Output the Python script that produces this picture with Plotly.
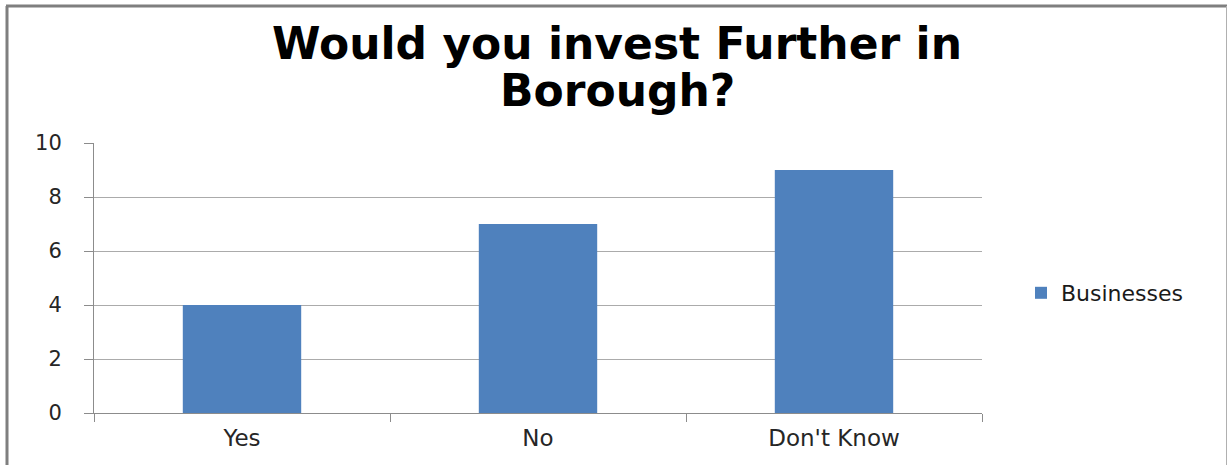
import plotly.graph_objects as go

categories = ["Yes", "No", "Don't Know"]
businesses = [4, 7, 9]
y_ticks = [0, 2, 4, 6, 8, 10]
title_lines = ["Would you invest Further in", "Borough?"]

W, H = 1231, 465
L, R, T, B = 94, 982, 143, 413  # plot area edges in pixels

def px_x(p):
    return (p - L) / (R - L)

def px_y(p):
    return (B - p) / (B - T)

fig = go.Figure()
fig.add_trace(go.Bar(
    x=categories,
    y=businesses,
    name="Businesses",
    marker=dict(color="#4F81BD", line=dict(width=0)),
    width=0.4,
))

axis_grey = "#8C8C8C"
font_family = "DejaVu Sans"

fig.update_layout(
    width=W,
    height=H,
    margin=dict(l=L, r=W - R, t=T, b=H - B, pad=0),
    paper_bgcolor="white",
    plot_bgcolor="white",
    showlegend=True,
    legend=dict(
        x=px_x(1021),
        xanchor="left",
        y=px_y(293),
        yanchor="middle",
        font=dict(family=font_family, size=22, color="#1a1a1a"),
        bgcolor="rgba(0,0,0,0)",
    ),
    xaxis=dict(
        type="category",
        showline=True,
        linecolor=axis_grey,
        linewidth=1,
        ticks="outside",
        tickson="boundaries",
        ticklen=8,
        tickcolor=axis_grey,
        showgrid=False,
        tickfont=dict(family=font_family, size=23, color="#262626"),
        ticklabelstandoff=4,
        range=[-0.5, 2.5],
    ),
    yaxis=dict(
        range=[0, 10],
        tickvals=y_ticks,
        showline=True,
        linecolor=axis_grey,
        linewidth=1,
        ticks="outside",
        ticklen=9,
        tickcolor=axis_grey,
        showgrid=True,
        gridcolor="#ABABAB",
        gridwidth=1,
        zeroline=False,
        tickfont=dict(family=font_family, size=21, color="#262626"),
        ticklabelstandoff=18,
    ),
    bargap=0.6,
)

# Two-line bold title, placed line by line for tight spacing
for text, yc in zip(title_lines, [44, 91]):
    fig.add_annotation(
        text=f"<b>{text}</b>",
        xref="paper", yref="paper",
        x=px_x(617), y=px_y(yc),
        xanchor="center", yanchor="middle",
        showarrow=False,
        font=dict(family=font_family, size=44, color="black"),
    )

# Chart frame: darker left/top edges, lighter right edge
fig.add_shape(type="line", xref="paper", yref="paper",
              x0=px_x(7), x1=px_x(7), y0=px_y(470), y1=px_y(6),
              line=dict(color="#7F7F7F", width=3), layer="above")
fig.add_shape(type="line", xref="paper", yref="paper",
              x0=px_x(6), x1=px_x(1227), y0=px_y(6), y1=px_y(6),
              line=dict(color="#7F7F7F", width=3), layer="above")
fig.add_shape(type="line", xref="paper", yref="paper",
              x0=px_x(1226.5), x1=px_x(1226.5), y0=px_y(470), y1=px_y(6),
              line=dict(color="#B0B0B0", width=1), layer="above")

fig.write_html("out.html")
